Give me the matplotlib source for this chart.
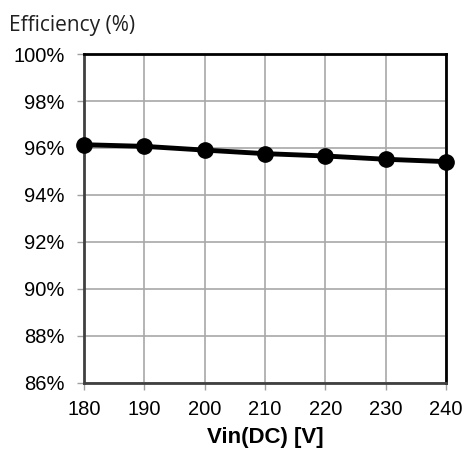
import matplotlib.pyplot as plt
import numpy as np

vin = [180, 190, 200, 210, 220, 230, 240]
efficiency = [96.14, 96.07, 95.91, 95.76, 95.66, 95.52, 95.42]
yticks = [86, 88, 90, 92, 94, 96, 98, 100]

fig = plt.figure(figsize=(4.67, 4.58), dpi=100)
ax = fig.add_axes([0.18, 0.164, 0.775, 0.718])

ax.plot(vin, efficiency, color='black', linewidth=3.5, marker='o', markersize=11, zorder=3, clip_on=False)

ax.set_xlim(180, 240)
ax.set_ylim(86, 100)
ax.set_xticks(vin)
ax.set_yticks(yticks)
ax.set_yticklabels([f"{v}%" for v in yticks])
ax.grid(True, color='#a8a8a8', linewidth=1.2)
ax.set_axisbelow(True)

for s in ['top', 'right']:
    ax.spines[s].set_linewidth(2)
    ax.spines[s].set_color('black')
for s in ['left', 'bottom']:
    ax.spines[s].set_linewidth(2)
    ax.spines[s].set_color('#404040')

ax.tick_params(axis='both', direction='out', length=5, width=1, color='#a0a0a0',
               labelsize=14.5)
ax.tick_params(axis='x', pad=7)
ax.tick_params(axis='y', pad=9)
for lab in ax.get_xticklabels() + ax.get_yticklabels():
    lab.set_fontfamily('Liberation Sans')

ax.set_xlabel('Vin(DC) [V]', fontsize=16, fontweight='bold', family='Liberation Sans', labelpad=6)
fig.text(0.02, 0.945, 'Efficiency (%)', fontsize=15, family='Open Sans', color='#202020', va='center')

fig.savefig('out.png', dpi=100)
